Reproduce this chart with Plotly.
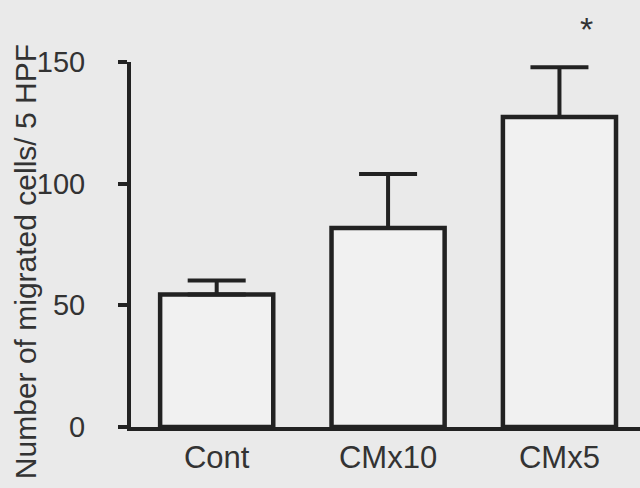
import plotly.graph_objects as go

categories = ["Cont", "CMx10", "CMx5"]
means = [54.5, 81.8, 127.4]
err_plus = [5.7, 22.2, 20.4]
y_ticks = [0, 50, 100, 150]
y_max = 150
y_title = "Number of migrated cells/ 5 HPF"
sig_label = "*"
sig_category = "CMx5"
sig_y = 166

INK = "#222222"
BG = "#eaeaea"
FONT = "Liberation Sans, Arial, sans-serif"

fig = go.Figure()
fig.add_trace(go.Bar(
    x=categories,
    y=means,
    width=0.66,
    marker=dict(color="#f1f1f1", line=dict(color=INK, width=4.5)),
    error_y=dict(type="data", array=err_plus, arrayminus=[0] * len(err_plus),
                 symmetric=False, color=INK, thickness=4, width=29),
    showlegend=False,
))

# significance star sits above the axis range, so place it in paper units
fig.add_annotation(x=sig_category, y=sig_y / y_max, xref="x", yref="paper",
                   text=sig_label, showarrow=False, xshift=27, yshift=-6,
                   yanchor="middle",
                   font=dict(family=FONT, size=34, color="#333333"))

fig.add_annotation(xref="paper", yref="paper", x=-0.208, y=0.452,
                   text=y_title, textangle=-90, showarrow=False,
                   xanchor="center", yanchor="middle",
                   font=dict(family=FONT, size=30, color="#333333"))

fig.update_layout(
    width=640, height=488,
    margin=dict(l=131, r=0, t=62, b=61),
    paper_bgcolor=BG, plot_bgcolor=BG,
    font=dict(family=FONT, color="#333333"),
)
fig.update_xaxes(
    range=[-0.5, 2.47],
    showline=True, linecolor=INK, linewidth=4,
    showgrid=False, zeroline=False, ticks="",
    tickfont=dict(family=FONT, size=31, color="#333333"),
)
fig.update_yaxes(
    range=[0, y_max],
    tickvals=y_ticks,
    showline=True, linecolor=INK, linewidth=4,
    showgrid=False, zeroline=False,
    ticks="outside", ticklen=9, tickwidth=4, tickcolor=INK,
    ticklabelstandoff=27,
    tickfont=dict(family=FONT, size=29, color="#333333"),
)

fig.write_html("out.html")
